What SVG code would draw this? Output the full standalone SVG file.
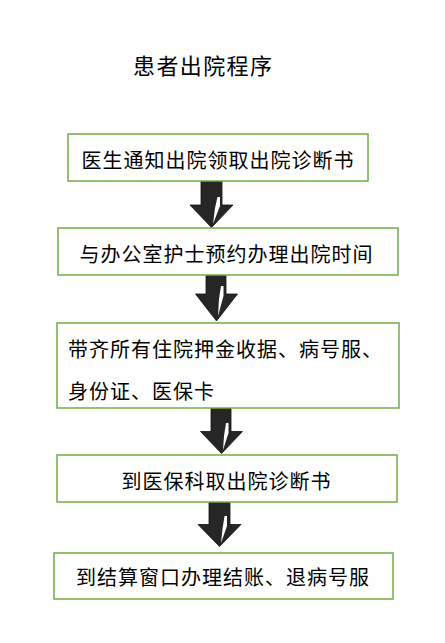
<svg xmlns="http://www.w3.org/2000/svg" width="445" height="643" viewBox="0 0 445 643">
<style>
.box{fill:#fff;stroke:#70AD47;stroke-width:1.5}
.t{font-family:"Noto Sans CJK SC","Noto Sans",sans-serif;font-size:20px;letter-spacing:1px;fill:#000}
.title{font-family:"Noto Sans CJK SC","Noto Sans",sans-serif;font-size:22px;letter-spacing:1.4px;fill:#000}
.arr{fill:#262626;stroke:#111;stroke-width:0.8}
.hl{fill:#fff}
</style>
<rect width="445" height="643" fill="#fff"/>
<text class="title" x="133" y="74">患者出院程序</text>
<g id="connectors">
<g id="arrow1">
<polygon class="arr" points="201,181 222,181 222,205 233,205 211.5,227.5 190,205 201,205"/>
<polygon class="hl" points="217.5,197 220,197 220,206 213,224 215,208"/>
</g>
<g id="arrow2">
<polygon class="arr" points="206,275.5 226,275.5 226,294 237.5,294 216.5,321 195.5,294 206,294"/>
<polygon class="hl" points="221,286 223.5,286 223.5,296 218,316 219,299"/>
</g>
<g id="arrow3">
<polygon class="arr" points="211,408.5 231,408.5 231,431.5 242.5,431.5 221.5,453.5 200.5,431.5 211,431.5"/>
<polygon class="hl" points="226,423 228.5,423 228.5,433 223,450 224,436"/>
</g>
<g id="arrow4">
<polygon class="arr" points="209,502.5 230,502.5 230,524.5 241,524.5 219.5,546.5 198,524.5 209,524.5"/>
<polygon class="hl" points="224.5,516 227,516 227,526 221,543 222.5,529"/>
</g>
</g>
<g id="node1">
<rect class="box" x="68" y="134" width="300" height="47"/>
<text class="t" x="81.5" y="168">医生通知出院领取出院诊断书</text>
</g>
<g id="node2">
<rect class="box" x="58" y="228" width="340" height="47"/>
<text class="t" x="79.5" y="262">与办公室护士预约办理出院时间</text>
</g>
<g id="node3">
<rect class="box" x="57" y="323" width="342" height="85"/>
<text class="t" x="68" y="357">带齐所有住院押金收据、病号服、</text>
<text class="t" x="68" y="399">身份证、医保卡</text>
</g>
<g id="node4">
<rect class="box" x="57" y="455" width="340" height="47"/>
<text class="t" x="121.5" y="489">到医保科取出院诊断书</text>
</g>
<g id="node5">
<rect class="box" x="54" y="553" width="339" height="46"/>
<text class="t" x="76" y="585">到结算窗口办理结账、退病号服</text>
</g>
</svg>
